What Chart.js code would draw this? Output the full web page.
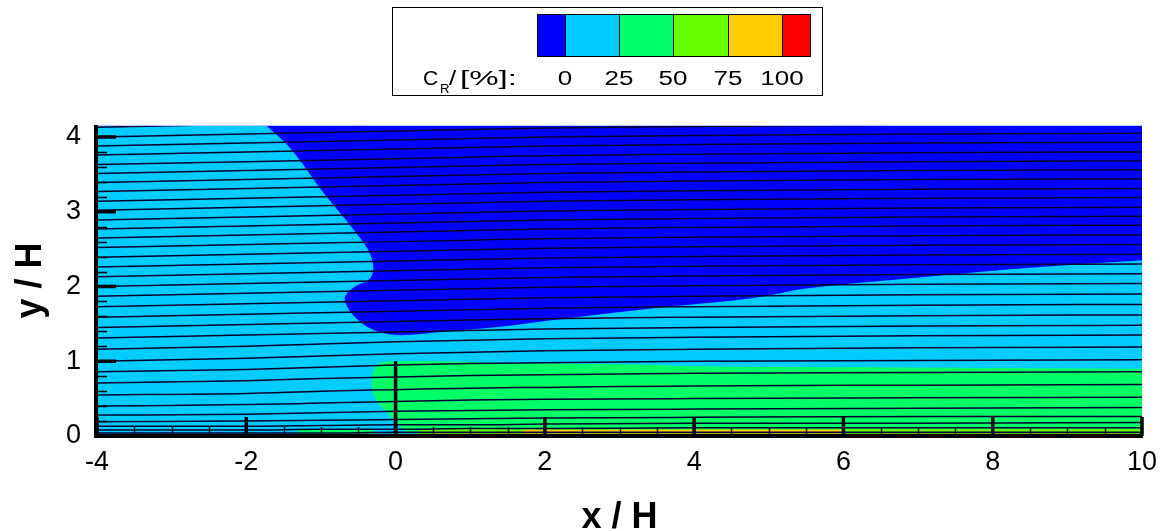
<!DOCTYPE html>
<html>
<head>
<meta charset="utf-8">
<script src="https://cdn.jsdelivr.net/npm/chart.js@4.4.1/dist/chart.umd.min.js"></script>
<style>
html,body{margin:0;padding:0;background:#fff;}
#wrap{width:1168px;height:531px;position:relative;}
</style>
</head>
<body>
<div id="wrap"><canvas id="c" width="1168" height="531"></canvas></div>
<script>
// ---------------- data ----------------
const xTickValues = [-4, -2, 0, 2, 4, 6, 8, 10];
const yTickValues = [0, 1, 2, 3, 4];
const xMinorTicks = [-3.5, -3, -2.5, -1.5, -1, -0.5, 0.5, 1, 1.5, 2.5, 3, 3.5, 4.5, 5, 5.5, 6.5, 7, 7.5, 8.5, 9, 9.5];
const yMinorTicks = [0.2, 0.4, 0.6, 0.8, 1.2, 1.4, 1.6, 1.8, 2.2, 2.4, 2.6, 2.8, 3.2, 3.4, 3.6, 3.8];

const legendLevels = ['0', '25', '50', '75', '100'];
const legendColors = ['#0000FF', '#00CCFF', '#00FF66', '#66FF00', '#FFCC00', '#FF0000'];

// region C_R < 0 (dark blue): boundary from top edge, around the nose, to right edge
const negX = [-1.74, -1.41, -0.97, -0.61, -0.38, -0.30, -0.34, -0.57, -0.68, -0.57, -0.30, 0.02, 0.60, 1.40, 2.11, 3.45, 4.75, 5.55, 7.12, 8.50, 10.0];
const negY = [4.16, 3.85, 3.26, 2.82, 2.51, 2.29, 2.11, 1.98, 1.84, 1.62, 1.42, 1.35, 1.39, 1.46, 1.55, 1.71, 1.84, 1.98, 2.13, 2.25, 2.35];

// region 25-50 % (green): upper and lower boundaries
const greenTopX = [-0.32, -0.30, -0.25, -0.14, 0.06, 0.60, 1.40, 3.00, 4.30, 6.00, 8.00, 10.0];
const greenTopY = [0.75, 0.86, 0.95, 0.99, 1.00, 1.00, 0.98, 0.96, 0.93, 0.92, 0.91, 0.90];
const greenBotX = [-0.32, -0.31, -0.28, -0.20, -0.11, 0.00, 0.06, 0.15, 0.50, 10.0];
const greenBotY = [0.75, 0.62, 0.52, 0.40, 0.31, 0.18, 0.12, 0.05, 0.03, 0.03];

// thin near-wall bands
const lgStripX = [0.30, 10.0];
const lgStripY = [0.09, 0.09];
const orStripX = [1.70, 6.00];
const orStripY = [0.085, 0.085];
const upGreenX = [-1.30, -0.30];
const upGreenY = [0.09, 0.09];

// fence
const fenceX = [0, 0];
const fenceY = [0, 1];

// streamlines: y/H at the stations below
const stationsX = [-4, -2, -1, 0, 1, 2, 4, 7, 10];
const streamY = [
  [4.13, 4.17, 4.19, 4.21, 4.23, 4.25, 4.27, 4.29, 4.30],
  [4.00, 4.04, 4.06, 4.08, 4.10, 4.12, 4.14, 4.16, 4.17],
  [3.88, 3.92, 3.94, 3.96, 3.98, 4.00, 4.02, 4.04, 4.05],
  [3.76, 3.80, 3.82, 3.84, 3.86, 3.88, 3.90, 3.92, 3.93],
  [3.63, 3.67, 3.69, 3.71, 3.73, 3.75, 3.77, 3.79, 3.80],
  [3.51, 3.55, 3.57, 3.59, 3.61, 3.63, 3.65, 3.67, 3.68],
  [3.39, 3.43, 3.45, 3.47, 3.49, 3.51, 3.53, 3.55, 3.56],
  [3.27, 3.31, 3.33, 3.35, 3.37, 3.39, 3.41, 3.43, 3.44],
  [3.14, 3.18, 3.20, 3.22, 3.24, 3.26, 3.28, 3.30, 3.31],
  [3.02, 3.06, 3.08, 3.10, 3.12, 3.14, 3.16, 3.18, 3.19],
  [2.89, 2.93, 2.95, 2.97, 2.99, 3.01, 3.03, 3.05, 3.06],
  [2.77, 2.81, 2.83, 2.85, 2.87, 2.89, 2.91, 2.93, 2.94],
  [2.65, 2.69, 2.71, 2.73, 2.75, 2.77, 2.79, 2.81, 2.82],
  [2.52, 2.56, 2.58, 2.60, 2.62, 2.64, 2.66, 2.68, 2.69],
  [2.39, 2.43, 2.45, 2.47, 2.49, 2.51, 2.53, 2.55, 2.56],
  [2.26, 2.30, 2.32, 2.34, 2.36, 2.38, 2.40, 2.42, 2.43],
  [2.13, 2.17, 2.19, 2.21, 2.23, 2.25, 2.27, 2.29, 2.30],
  [2.00, 2.04, 2.06, 2.08, 2.10, 2.12, 2.14, 2.16, 2.17],
  [1.87, 1.91, 1.93, 1.95, 1.97, 1.99, 2.01, 2.03, 2.04],
  [1.73, 1.77, 1.79, 1.81, 1.83, 1.85, 1.87, 1.89, 1.90],
  [1.59, 1.63, 1.65, 1.67, 1.69, 1.71, 1.73, 1.75, 1.76],
  [1.45, 1.49, 1.51, 1.53, 1.55, 1.57, 1.59, 1.61, 1.62],
  [1.31, 1.35, 1.37, 1.39, 1.41, 1.43, 1.45, 1.47, 1.48],
  [1.16, 1.20, 1.23, 1.26, 1.28, 1.30, 1.32, 1.34, 1.35],
  [1.00, 1.04, 1.07, 1.10, 1.12, 1.14, 1.16, 1.18, 1.19],
  [0.86, 0.89, 0.92, 0.95, 0.97, 0.98, 1.00, 1.01, 1.02],
  [0.71, 0.74, 0.77, 0.79, 0.81, 0.82, 0.84, 0.85, 0.86],
  [0.55, 0.57, 0.60, 0.62, 0.64, 0.65, 0.67, 0.68, 0.69],
  [0.40, 0.42, 0.44, 0.46, 0.48, 0.49, 0.50, 0.51, 0.52],
  [0.28, 0.29, 0.31, 0.33, 0.34, 0.35, 0.36, 0.37, 0.38],
  [0.19, 0.20, 0.21, 0.22, 0.23, 0.24, 0.25, 0.26, 0.26],
  [0.13, 0.13, 0.14, 0.15, 0.15, 0.16, 0.17, 0.17, 0.18],
  [0.08, 0.08, 0.09, 0.09, 0.10, 0.10, 0.11, 0.11, 0.11],
  [0.04, 0.04, 0.04, 0.05, 0.05, 0.05, 0.05, 0.05, 0.05],
  [0.02, 0.02, 0.02, 0.02, 0.02, 0.02, 0.02, 0.02, 0.02]
];

// ---------------- helpers ----------------
const pts = (xs, ys) => xs.map((x, i) => ({x: x, y: ys[i]}));
const FONT = "'Liberation Sans', Arial, Helvetica, sans-serif";
const LINE_COLOR = '#000030';

const datasets = [];
// fence (on top)
datasets.push({data: pts(fenceX, fenceY), showLine: true, borderColor: '#000', borderWidth: 3.5, pointRadius: 0, fill: false, order: 0, borderCapStyle: 'butt'});
// streamlines
streamY.forEach(ys => {
  datasets.push({data: pts(stationsX, ys), showLine: true, borderColor: LINE_COLOR, borderWidth: 1.5, pointRadius: 0, fill: false, cubicInterpolationMode: 'monotone', order: 1});
});
// wall bands
datasets.push({data: pts(orStripX, orStripY), showLine: true, borderWidth: 0, borderColor: 'rgba(0,0,0,0)', backgroundColor: legendColors[4], pointRadius: 0, fill: {value: 0.0}, order: 4});
datasets.push({data: pts(lgStripX, lgStripY), showLine: true, borderWidth: 0, borderColor: 'rgba(0,0,0,0)', backgroundColor: legendColors[3], pointRadius: 0, fill: {value: 0.0}, order: 5});
datasets.push({data: pts(upGreenX, upGreenY), showLine: true, borderWidth: 0, borderColor: 'rgba(0,0,0,0)', backgroundColor: legendColors[2], pointRadius: 0, fill: {value: 0.0}, order: 5});
// green region: top boundary filled to the next dataset (bottom boundary)
datasets.push({data: pts(greenTopX, greenTopY), showLine: true, borderWidth: 0, borderColor: 'rgba(0,0,0,0)', backgroundColor: legendColors[2], pointRadius: 0, fill: '+1', tension: 0.35, order: 8});
datasets.push({data: pts(greenBotX, greenBotY), showLine: true, borderWidth: 0, borderColor: 'rgba(0,0,0,0)', pointRadius: 0, fill: false, tension: 0.35, order: 9});
// dark blue region
datasets.push({data: pts(negX, negY), showLine: true, borderWidth: 0, borderColor: 'rgba(0,0,0,0)', backgroundColor: legendColors[0], pointRadius: 0, fill: 'end', tension: 0.35, order: 10});

const bgPlugin = {
  id: 'bg',
  beforeDatasetsDraw(chart) {
    const a = chart.chartArea, ctx = chart.ctx;
    ctx.save();
    ctx.fillStyle = legendColors[1];
    ctx.fillRect(a.left, a.top, a.right - a.left, a.bottom - a.top);
    ctx.restore();
  }
};

const axisPlugin = {
  id: 'axes',
  afterDatasetsDraw(chart) {
    const ctx = chart.ctx, a = chart.chartArea;
    const xs = chart.scales.x, ys = chart.scales.y;
    ctx.save();
    // top thin border
    ctx.lineWidth = 1;
    ctx.strokeStyle = '#b8c4ff';
    ctx.beginPath(); ctx.moveTo(a.left, a.top + 0.5); ctx.lineTo(a.right, a.top + 0.5); ctx.stroke();
    ctx.strokeStyle = '#000';
    // minor ticks
    ctx.lineWidth = 1.5;
    xMinorTicks.forEach(v => {
      const px = Math.round(xs.getPixelForValue(v)) + 0.5;
      ctx.beginPath(); ctx.moveTo(px, a.bottom); ctx.lineTo(px, a.bottom - 9); ctx.stroke();
    });
    yMinorTicks.forEach(v => {
      const py = Math.round(ys.getPixelForValue(v)) + 0.5;
      ctx.beginPath(); ctx.moveTo(a.left, py); ctx.lineTo(a.left + 10, py); ctx.stroke();
    });
    // major ticks
    ctx.lineWidth = 3.5;
    xTickValues.forEach(v => {
      const px = xs.getPixelForValue(v);
      ctx.beginPath(); ctx.moveTo(px, a.bottom); ctx.lineTo(px, a.bottom - 19); ctx.stroke();
    });
    yTickValues.forEach(v => {
      const py = ys.getPixelForValue(v);
      ctx.beginPath(); ctx.moveTo(a.left, py); ctx.lineTo(a.left + 19, py); ctx.stroke();
    });
    // axis lines
    ctx.lineWidth = 4;
    ctx.beginPath(); ctx.moveTo(a.left - 1, a.top); ctx.lineTo(a.left - 1, a.bottom); ctx.lineTo(a.right + 1, a.bottom); ctx.stroke();
    ctx.restore();
  }
};

function stretchedText(ctx, text, x, y, sx, align) {
  ctx.save();
  ctx.translate(x, y);
  ctx.scale(sx, 1);
  ctx.textAlign = align;
  ctx.fillText(text, 0, 0);
  ctx.restore();
}

const legendPlugin = {
  id: 'cbar',
  afterDraw(chart) {
    const ctx = chart.ctx;
    ctx.save();
    // frame
    ctx.strokeStyle = '#000';
    ctx.lineWidth = 1;
    ctx.strokeRect(392.5, 7.5, 430, 88);
    // colour cells
    const edges = [537, 565, 619, 673, 728, 782, 810];
    for (let i = 0; i < legendColors.length; i++) {
      ctx.fillStyle = legendColors[i];
      ctx.fillRect(edges[i], 14, edges[i + 1] - edges[i], 42);
      ctx.strokeRect(edges[i] + 0.5, 14.5, edges[i + 1] - edges[i], 42);
    }
    // labels
    ctx.fillStyle = '#000';
    ctx.textBaseline = 'alphabetic';
    ctx.font = '20px ' + FONT;
    legendLevels.forEach((t, i) => stretchedText(ctx, t, edges[i + 1], 85, 1.3, 'center'));
    stretchedText(ctx, 'C', 423, 85, 1.05, 'left');
    ctx.font = '12px ' + FONT;
    stretchedText(ctx, 'R', 440, 93, 1.1, 'left');
    ctx.font = '20px ' + FONT;
    stretchedText(ctx, '/', 449, 85, 1.3, 'left');
    stretchedText(ctx, '[%]:', 460, 85, 1.65, 'left');
    ctx.restore();
  }
};

new Chart(document.getElementById('c'), {
  type: 'scatter',
  data: {datasets: datasets},
  options: {
    responsive: false,
    animation: false,
    devicePixelRatio: 1,
    layout: {padding: {left: 0, right: 26, top: 125, bottom: 0}},
    plugins: {legend: {display: false}, tooltip: {enabled: false}},
    elements: {line: {borderJoinStyle: 'round'}},
    scales: {
      x: {
        type: 'linear', min: -4, max: 10,
        afterBuildTicks: s => { s.ticks = xTickValues.map(v => ({value: v})); },
        afterFit: s => { s.height = 95; },
        ticks: {color: '#000', font: {family: FONT, size: 27}, padding: 10, maxRotation: 0, autoSkip: false},
        grid: {display: false, drawTicks: false},
        border: {display: false},
        title: {display: true, text: 'x / H', color: '#000', font: {family: FONT, size: 36, weight: 'bold', lineHeight: 1}, padding: {top: 0, bottom: -5}}
      },
      y: {
        type: 'linear', min: 0, max: 4.16,
        afterBuildTicks: s => { s.ticks = yTickValues.map(v => ({value: v})); },
        afterFit: s => { s.width = 97; },
        ticks: {color: '#000', font: {family: FONT, size: 27}, padding: 16, autoSkip: false},
        grid: {display: false, drawTicks: false},
        border: {display: false},
        title: {display: true, text: 'y / H', color: '#000', font: {family: FONT, size: 36, weight: 'bold', lineHeight: 1}, padding: {top: 13, bottom: 0}}
      }
    }
  },
  plugins: [bgPlugin, axisPlugin, legendPlugin]
});
</script>
</body>
</html>
